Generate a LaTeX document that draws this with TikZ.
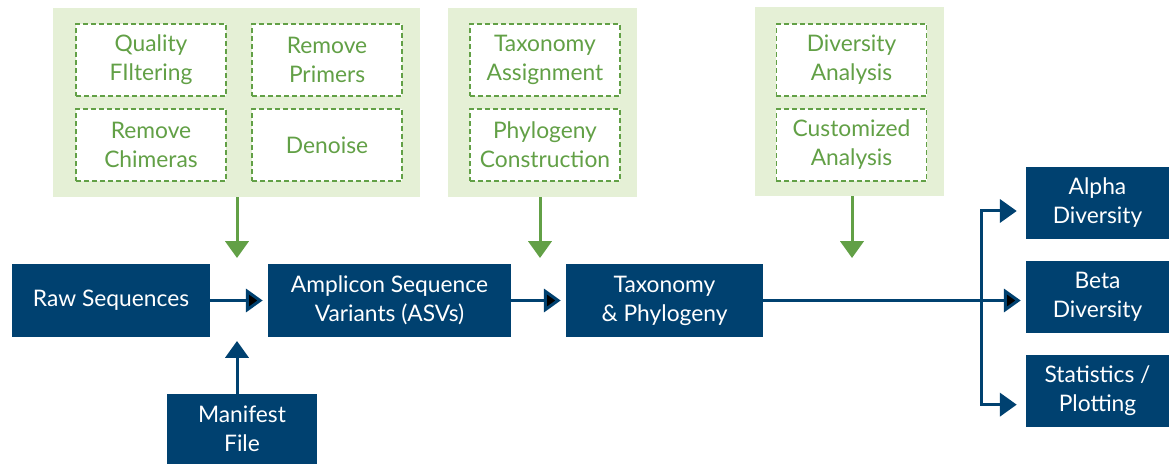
\documentclass[tikz,border=0pt]{standalone}
\usepackage{fontspec}
\setmainfont{Lato}
\usetikzlibrary{arrows.meta,positioning}
\definecolor{navy}{RGB}{0,65,112}
\definecolor{leaf}{RGB}{98,160,70}
\definecolor{pale}{RGB}{229,240,214}

\begin{document}
\begin{tikzpicture}[x=0.025cm,y=-0.025cm,node distance=2.35cm,on grid,
    stage/.style={fill=navy,text=white,align=center,inner sep=0pt,
      font=\fontsize{16.2}{20.6}\selectfont,minimum height=1.825cm},
    panel/.style={fill=pale,inner sep=0pt,minimum width=4.725cm,minimum height=4.725cm},
    task/.style={draw=leaf,fill=white,text=leaf,align=center,inner sep=0pt,
      line width=0.0375cm,dash pattern=on 0.125cm off 0.075cm,
      font=\fontsize{16.2}{20.6}\selectfont,minimum width=3.75cm,minimum height=1.8cm},
    link/.style={draw=navy,line width=0.075cm,-{Triangle[length=0.42cm,width=0.58cm]}},
    feed/.style={draw=leaf,line width=0.075cm,-{Triangle[length=0.42cm,width=0.58cm]}}]
  \useasboundingbox (0,0) rectangle (1169,464);

  % green panels
  \node[panel,minimum width=9.175cm] (p1) at (236.5,102.5) {};
  \node[panel] (p2) at (542.5,102.5) {};
  \node[panel] (p3) at (849.5,101.5) {};

  \node[task] (qf) at (151,60) {Quality\\FIltering};
  \node[task] (rp) [right=4.4cm of qf] {Remove\\Primers};
  \node[task] (rc) [below=2.125cm of qf] {Remove\\Chimeras};
  \node[task] (dn) [below=2.125cm of rp] {Denoise};
  \node[task] (ta) at (545,60) {Taxonomy\\Assignment};
  \node[task] (pc) [below=2.125cm of ta] {Phylogeny\\Construction};
  \node[task] (da) at (851.5,60) {Diversity\\Analysis};
  \node[task] (ca) [below=2.125cm of da] {Customized\\Analysis};

  % main flow
  \node[stage,minimum width=4.95cm] (raw) at (111,300.5) {Raw Sequences};
  \node[stage,minimum width=6.075cm] (asv) at (389.5,300.5) {Amplicon Sequence\\Variants (ASVs)};
  \node[stage,minimum width=4.925cm] (tax) at (664.5,300.5) {Taxonomy\\\& Phylogeny};
  \node[stage,minimum width=3.75cm,minimum height=1.75cm] (mf) at (242,429) {Manifest\\File};

  \node[stage,minimum width=3.575cm,minimum height=1.8cm] (alpha) at (1097.5,203) {Alpha\\Diversity};
  \node[stage,minimum width=3.575cm,minimum height=1.8cm] (beta) [below=of alpha] {Beta\\Diversity};
  \node[stage,minimum width=3.575cm,minimum height=1.8cm] (stats) [below=of beta] {Statistics /\\Plotting};

  \coordinate (in0) at (237,341);
  \coordinate (in1) at (237,258);
  \coordinate (in2) at (540,258);
  \coordinate (in3) at (852,258);
  \coordinate (fork) at (981,300.5);

  \draw[feed] (p1.south -| in1) -- (in1);
  \draw[feed] (p2.south -| in2) -- (in2);
  \draw[feed] (p3.south -| in3) -- (in3);

  \path[link,shorten >=0.125cm]
    (raw) edge (asv)
    (asv) edge (tax)
    (tax) edge (beta.west |- tax.east);
  \draw[link] (mf.north -| in0) -- (in0);
  \draw[link,shorten >=0.225cm] (fork) |- ([yshift=-0.2cm]alpha.west);
  \draw[link,shorten >=0.225cm] (fork) |- ([yshift=-0.34cm]stats.west);
\end{tikzpicture}
\end{document}
